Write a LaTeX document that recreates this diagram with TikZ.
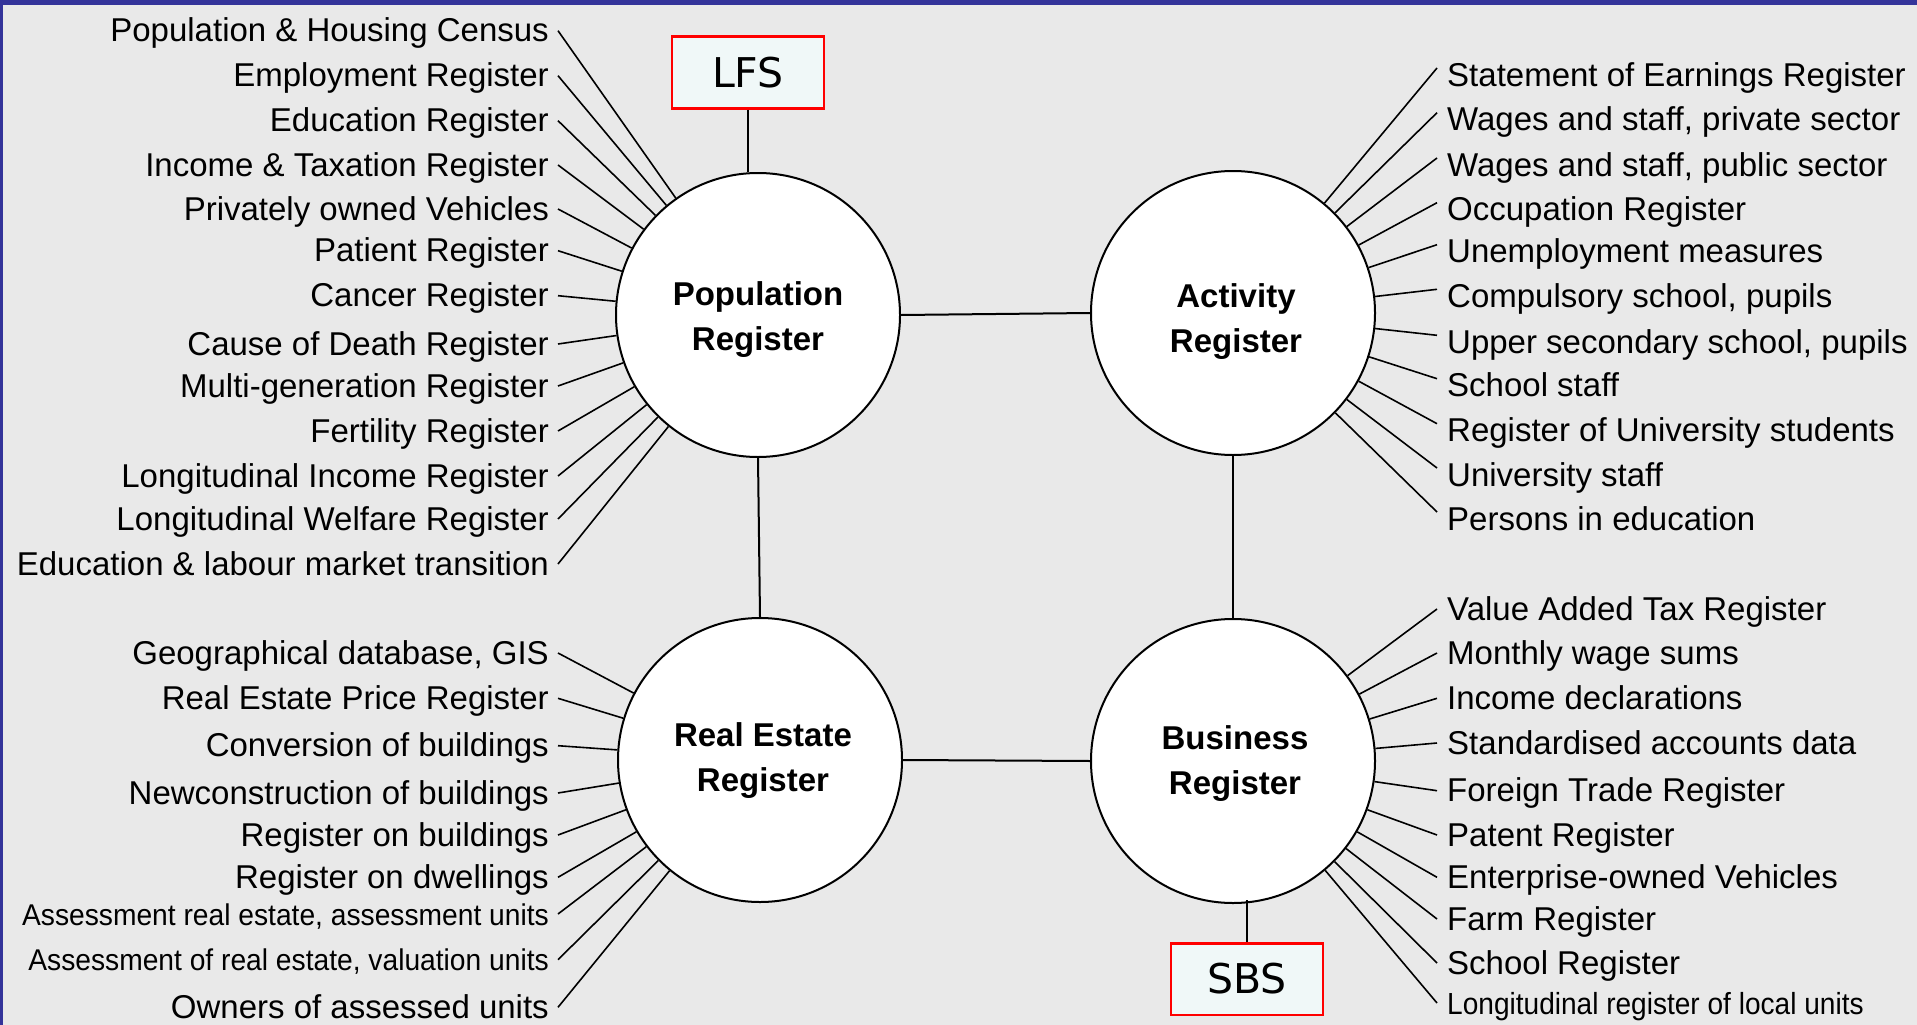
\documentclass[tikz,border=0pt]{standalone}
\usepackage{fontspec}
\setmainfont{Liberation Sans}
\newfontfamily\boxfont{DejaVu Sans}
\newfontfamily\narrowA[FakeStretch=0.94]{Liberation Sans}
\newfontfamily\narrowB[FakeStretch=0.92]{Liberation Sans}
\newcommand\lblsize{\fontsize{33}{40}\selectfont}
\newcommand\asmfont{\narrowA\fontsize{30}{36}\selectfont}
\newcommand\locfont{\narrowB\fontsize{30.5}{36}\selectfont}
\definecolor{bggray}{HTML}{E9E9E9}
\definecolor{bandblue}{HTML}{34349A}
\definecolor{boxfill}{HTML}{F0F8F8}
\definecolor{boxred}{HTML}{FF0000}
\tikzset{
  hub/.style={circle, draw=black, fill=white, line width=2pt, minimum size=284pt,
    inner sep=0pt},
  hubtext/.style={inner sep=0pt, align=center, font=\bfseries\fontsize{33}{45}\selectfont},
  survey/.style={draw=boxred, fill=boxfill, line width=2.5pt, minimum width=152pt,
    minimum height=71.5pt, inner sep=0pt, font=\boxfont\fontsize{41}{48}\selectfont},
  lftlbl/.style={anchor=base east, inner xsep=9pt, inner ysep=0pt,
    text height=22pt, text depth=0pt},
  rgtlbl/.style={anchor=base west, inner xsep=10pt, inner ysep=0pt,
    text height=22pt, text depth=0pt},
  rgthigh/.style={rgtlbl, text height=36pt},
  spoke/.style={line width=1.6pt},
  link/.style={line width=2pt}
}
\begin{document}
\begin{tikzpicture}[x=1pt,y=-1pt]
% canvas and frame
\useasboundingbox (0,0) rectangle (1917,1025);
\fill[bggray] (0,0) rectangle (1917,1025);
\fill[bandblue] (0,0) rectangle (1917,5);
\fill[bandblue] (0,0) rectangle (2.5,1025);

% four central registers
\node[hub] (pop) at (758,315) {};
\node[hub] (act) at (1233,313) {};
\node[hub] (re)  at (760,760) {};
\node[hub] (biz) at (1233,761) {};
\node[hubtext] (poptxt) at ([yshift=-5pt]pop.center) {Population\\Register};
\node[hubtext] (acttxt) at ([xshift=3pt,yshift=-9pt]act.center) {Activity\\Register};
\node[hubtext] (retxt)  at ([xshift=3pt,yshift=-1pt]re.center) {Real Estate\\Register};
\node[hubtext] (biztxt) at ([xshift=2pt,yshift=-3pt]biz.center) {Business\\Register};

\draw[link] (pop.east) -- (act.west);
\draw[link] (pop.south) -- (re.north);
\draw[link] (act.south) -- (biz.north);
\draw[link] (re.east) -- (biz.west);

% surveys
\node[survey] (lfs) at (748,72.5) {LFS};
\node[survey] (sbs) at (1247,979) {SBS};
\draw[link] (lfs.south) -- (lfs.south |- pop.north);
\draw[link] (sbs.north) -- ([yshift=4pt]sbs.north |- biz.south);

% sources of the Population Register
\foreach \y/\t/\f [count=\i] in {
  41.7/{Population \& Housing Census}/\relax,
  86.7/{Employment Register}/\relax,
  131.7/{Education Register}/\relax,
  176/{Income \& Taxation Register}/\relax,
  220/{Privately owned Vehicles}/\relax,
  261.7/{Patient Register}/\relax,
  306.7/{Cancer Register}/\relax,
  355/{Cause of Death Register}/\relax,
  397/{Multi-generation Register}/\relax,
  442/{Fertility Register}/\relax,
  487/{Longitudinal Income Register}/\relax,
  530/{Longitudinal Welfare Register}/\relax,
  575/{Education \& labour market transition}/\relax}
{
  \node[lftlbl, font=\lblsize\f] (pl\i) at (558,\y) {\t};
  \draw[spoke] (pl\i.east) -- (pop);
}

% sources of the Activity Register
\foreach \y/\t [count=\i] in {
  86/{Statement of Earnings Register},
  130.7/{Wages and staff, private sector},
  176/{Wages and staff, public sector},
  220.7/{Occupation Register},
  262.7/{Unemployment measures},
  307.3/{Compulsory school, pupils},
  353.3/{Upper secondary school, pupils},
  396.7/{School staff},
  441.7/{Register of University students},
  486/{University staff},
  530/{Persons in education}}
{
  \node[rgthigh, font=\lblsize] (al\i) at (1437,\y) {\t};
  \draw[spoke] (al\i.west) -- (act);
}

% sources of the Real Estate Register
\foreach \y/\t/\f [count=\i] in {
  664/{Geographical database, GIS}/\lblsize,
  709.3/{Real Estate Price Register}/\lblsize,
  756.7/{Conversion of buildings}/\lblsize,
  804/{Newconstruction of buildings}/\lblsize,
  846/{Register on buildings}/\lblsize,
  888.3/{Register on dwellings}/\lblsize,
  925/{Assessment real estate, assessment units}/\asmfont,
  970.7/{Assessment of real estate, valuation units}/\asmfont,
  1018.3/{Owners of assessed units}/\lblsize}
{
  \node[lftlbl, font=\f] (rl\i) at (558,\y) {\t};
  \draw[spoke] (rl\i.east) -- (re);
}

% sources of the Business Register
\foreach \y/\t/\f [count=\i] in {
  620/{Value Added Tax Register}/\lblsize,
  664/{Monthly wage sums}/\lblsize,
  709.3/{Income declarations}/\lblsize,
  754/{Standardised accounts data}/\lblsize,
  801.7/{Foreign Trade Register}/\lblsize,
  846/{Patent Register}/\lblsize,
  888.3/{Enterprise-owned Vehicles}/\lblsize,
  930/{Farm Register}/\lblsize,
  974/{School Register}/\lblsize,
  1014/{Longitudinal register of local units}/\locfont}
{
  \node[rgtlbl, font=\f] (bl\i) at (1437,\y) {\t};
  \draw[spoke] (bl\i.west) -- (biz);
}
\end{tikzpicture}
\end{document}
